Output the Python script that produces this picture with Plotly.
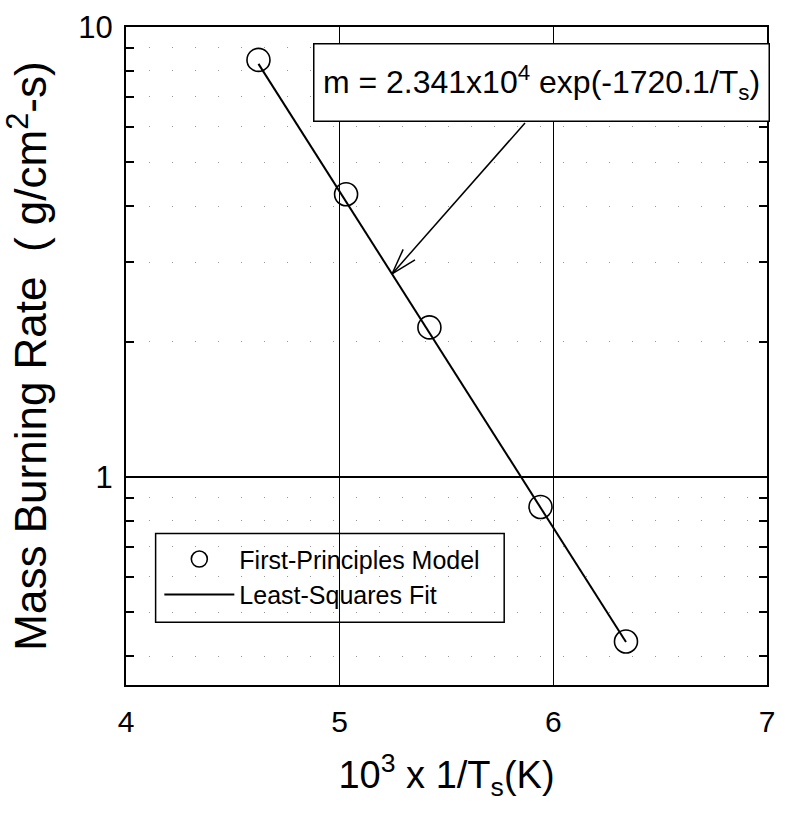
import math
import numpy as np
import plotly.graph_objects as go

# First-principles model results: 10^3/Ts and mass burning rate (g/cm^2-s)
inv_ts = [4.62, 5.03, 5.42, 5.94, 6.34]
burn_rate = [8.45, 4.25, 2.15, 0.858, 0.431]

# Least-squares Arrhenius fit: m = A exp(-B/Ts), with x = 10^3/Ts
fit_A = 2.341e4
fit_B = 1720.1

x_ticks = [4, 5, 6, 7]
y_ticks = [1, 10]
y_ticklabels = ["1", "10"]
y_minor = [0.4, 0.5, 0.6, 0.7, 0.8, 0.9, 2, 3, 4, 5, 6, 7, 8, 9]


def fit(x):
    return fit_A * np.exp(-fit_B * np.asarray(x) / 1000.0)


fit_x = [inv_ts[0], inv_ts[-1]]
fit_y = fit(fit_x)

FONT = "Liberation Sans, Arial, Helvetica, sans-serif"

fig = go.Figure()
fig.add_trace(go.Scatter(
    x=inv_ts, y=burn_rate, mode="markers", name="First-Principles Model",
    marker=dict(symbol="circle-open", size=23, color="black",
                line=dict(width=1.6, color="black")),
))
fig.add_trace(go.Scatter(
    x=fit_x, y=fit_y, mode="lines", name="Least-Squares Fit",
    line=dict(color="black", width=2),
))

# arrow from the equation box down to a point on the fit line
tip_x = 5.245
tip_y = float(fit(tip_x))
shaft = (133, 151)
ang = math.atan2(shaft[1], shaft[0])
head_len, head_spread = 27, math.radians(17)
segments = [(0, 0, shaft[0], shaft[1])]
for s in (-1, 1):
    a = ang + s * head_spread
    segments.append((0, 0, head_len * math.cos(a), head_len * math.sin(a)))
for x0, y0, x1, y1 in segments:
    fig.add_shape(type="line", xref="x", yref="y",
                  xsizemode="pixel", ysizemode="pixel",
                  xanchor=tip_x, yanchor=tip_y,
                  x0=x0, y0=y0, x1=x1, y1=y1,
                  line=dict(color="black", width=1.5))

# frame behind the legend entries (hides the gridlines it covers)
fig.add_shape(type="rect", xref="paper", yref="paper", layer="between",
              x0=0.0462, x1=0.590, y0=0.0955, y1=0.2303,
              fillcolor="white", line=dict(color="black", width=1.5))

fig.add_annotation(
    xref="paper", yref="paper", x=0.648, y=0.915,
    xanchor="center", yanchor="middle", showarrow=False,
    text="m = 2.341x10<sup>4</sup> exp(-1720.1/T<sub>s</sub>)",
    font=dict(family=FONT, size=32, color="black"),
    bgcolor="white", bordercolor="black", borderwidth=1.5,
    borderpad=8, width=438, height=60,
)

fig.update_layout(
    width=785, height=814,
    margin=dict(l=126, r=10, t=25, b=129),
    paper_bgcolor="white", plot_bgcolor="white",
    font=dict(family=FONT, color="black"),
    showlegend=True,
    legend=dict(
        x=0.052, y=0.226, xanchor="left", yanchor="top",
        bgcolor="rgba(0,0,0,0)", borderwidth=0,
        font=dict(family=FONT, size=25, color="black"),
        itemwidth=70,
    ),
)

fig.update_xaxes(
    range=[4, 7], tickvals=x_ticks, ticks="",
    tickfont=dict(size=30, family=FONT), ticklabelstandoff=9,
    showgrid=True, gridcolor="black", gridwidth=1,
    showline=True, linecolor="black", linewidth=2, mirror=True,
    zeroline=False,
    title=dict(text="10<sup>3</sup> x 1/T<sub>s</sub>(K)",
               font=dict(size=38, family=FONT), standoff=24),
)

fig.update_yaxes(
    type="log", range=[math.log10(0.345), 1],
    tickvals=y_ticks, ticktext=y_ticklabels,
    ticks="inside", ticklen=8, tickwidth=2, tickcolor="black",
    tickfont=dict(size=31, family=FONT), ticklabelstandoff=5,
    showgrid=True, gridcolor="black", gridwidth=2,
    showline=True, linecolor="black", linewidth=2, mirror="allticks",
    minor=dict(tickvals=y_minor, ticks="inside", ticklen=8, tickwidth=2,
               tickcolor="black", showgrid=True, gridcolor="#999",
               gridwidth=1, griddash="1px,22px"),
    title=dict(text="Mass Burning Rate  ( g/cm<sup>2</sup>-s)",
               font=dict(size=44, family=FONT), standoff=22),
)

fig.write_html("out.html")
